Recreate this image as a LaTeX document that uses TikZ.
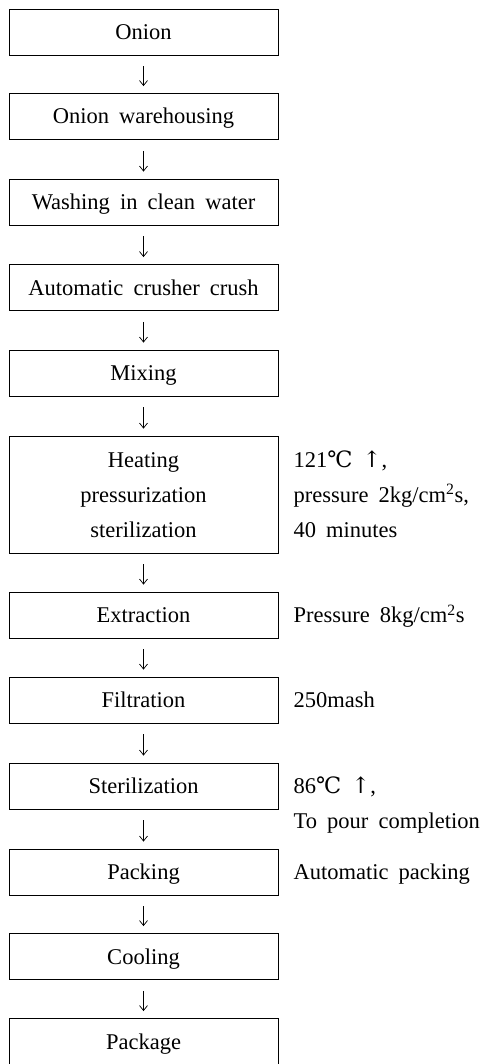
\documentclass[tikz,border=0pt]{standalone}
\usepackage{fontspec}
\setmainfont{Liberation Serif}[WordSpace=1.8]
\newfontfamily\symfont{DejaVu Serif}
\usetikzlibrary{arrows.meta,calc}
\begin{document}
\begin{tikzpicture}[x=1pt,y=-1pt,
  font=\fontsize{22.5}{35}\selectfont,
  box/.style={draw, line width=0.8pt, minimum width=269pt, minimum height=46pt,
    inner sep=0pt, text height=15pt, text depth=0pt, align=center},
  note/.style={anchor=north west, inner sep=0pt, text height=15pt, text depth=0pt, align=left},
  flow/.style={-{Straight Barb[length=5pt,width=8pt]}, line width=0.7pt,
    shorten <=11pt, shorten >=7pt}]
\useasboundingbox (0,0) rectangle (483,1064);
\node[box] (onion) at (143.5,32) {Onion};
\node[box] (ware) at (143.5,116.5) {Onion warehousing};
\node[box] (wash) at (143.5,202) {Washing in clean water};
\node[box] (crush) at (143.5,287.5) {Automatic crusher crush};
\node[box] (mix) at (143.5,373) {Mixing};
\node[box, minimum height=117pt, text height=85pt] (heat) at (143.5,494.5)
  {Heating\\pressurization\\sterilization};
\node[box] (extr) at (143.5,615) {Extraction};
\node[box] (filt) at (143.5,700) {Filtration};
\node[box] (ster) at (143.5,786) {Sterilization};
\node[box] (pack) at (143.5,872) {Packing};
\node[box] (cool) at (143.5,956.5) {Cooling};
\node[box] (pkg) at (143.5,1041.5) {Package};

\node[note, text height=85pt] (nheat) at ($(heat.east)+(15,-42.5)$)
  {121{\symfont ℃} {\symfont ↑},\\pressure 2kg/cm\textsuperscript{2}s,\\40 minutes};
\node[note] (nextr) at ($(extr.east)+(15,-7.5)$) {Pressure 8kg/cm\textsuperscript{2}s};
\node[note] (nfilt) at ($(filt.east)+(15,-7.5)$) {250mash};
\node[note, text height=50pt] (nster) at ($(ster.east)+(15,-7.5)$)
  {86{\symfont ℃} {\symfont ↑},\\To pour completion};
\node[note] (npack) at ($(pack.east)+(15,-7.5)$) {Automatic packing};

\draw[flow] (onion) -- (ware);
\draw[flow] (ware) -- (wash);
\draw[flow] (wash) -- (crush);
\draw[flow] (crush) -- (mix);
\draw[flow] (mix) -- (heat);
\draw[flow] (heat) -- (extr);
\draw[flow] (extr) -- (filt);
\draw[flow] (filt) -- (ster);
\draw[flow] (ster) -- (pack);
\draw[flow] (pack) -- (cool);
\draw[flow] (cool) -- (pkg);
\end{tikzpicture}
\end{document}
